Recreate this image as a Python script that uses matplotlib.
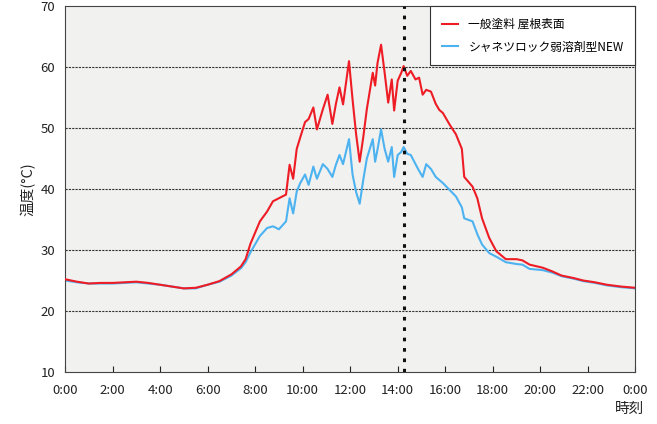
import matplotlib
matplotlib.use("Agg")
import matplotlib.pyplot as plt

plt.rcParams['font.family'] = ['Noto Sans CJK JP', 'DejaVu Sans']

hours = [0, 0.5, 1, 1.5, 2, 2.5, 3, 3.5, 4, 4.5, 5, 5.5, 6, 6.5, 7, 7.4, 7.6, 7.8,
         8.2, 8.5, 8.75, 9.0, 9.3, 9.45, 9.6, 9.75, 9.9, 10.1, 10.25, 10.45, 10.6,
         10.85, 11.05, 11.25, 11.4, 11.55, 11.7, 11.95, 12.1, 12.25, 12.4, 12.55,
         12.7, 12.95, 13.05, 13.15, 13.3, 13.45, 13.6, 13.75, 13.85, 14.0, 14.15,
         14.25, 14.4, 14.55, 14.75, 14.9, 15.05, 15.2, 15.4, 15.6, 15.75, 15.9,
         16.2, 16.45, 16.7, 16.8, 17.15, 17.35, 17.55, 17.85, 18.15, 18.55, 19.0,
         19.25, 19.55, 20.1, 20.5, 20.9, 21.4, 21.8, 22.3, 22.8, 23.4, 24.0]

general_paint = [25.2, 24.8, 24.5, 24.6, 24.6, 24.7, 24.8, 24.6, 24.3, 24.0, 23.7, 23.8,
                 24.3, 24.9, 26.0, 27.3, 28.5, 31.0,
                 34.7, 36.3, 38.0, 38.5, 39.1, 44.0, 41.7, 46.6, 48.5, 51.0, 51.5, 53.4, 49.8,
                 53.1, 55.5, 50.7, 54.0, 56.7, 53.9, 61.0, 54.7, 49.0, 44.5, 48.5,
                 53.1, 59.1, 57.0, 60.7, 63.7, 59.1, 54.2, 58.0, 52.9, 57.8, 59.1,
                 60.2, 58.6, 59.4, 58.0, 58.3, 55.5, 56.3, 56.0, 54.0, 53.0, 52.5,
                 50.5, 49.0, 46.6, 42.0, 40.4, 38.5, 35.2, 32.0, 29.8, 28.5, 28.5,
                 28.3, 27.6, 27.1, 26.5, 25.8, 25.4, 25.0, 24.7, 24.3, 24.0, 23.8]

shanetsu_new = [25.0, 24.7, 24.5, 24.5, 24.5, 24.6, 24.7, 24.5, 24.3, 24.0, 23.7, 23.7,
                24.3, 24.8, 25.8, 27.0, 28.0, 29.6,
                32.3, 33.6, 33.9, 33.4, 34.7, 38.5, 36.0, 39.6, 41.0, 42.4, 40.7, 43.7, 41.7,
                44.1, 43.3, 42.0, 44.0, 45.6, 44.1, 48.2, 42.4, 39.5, 37.6, 41.5,
                45.0, 48.2, 44.5, 46.5, 49.8, 46.6, 44.5, 46.9, 42.0, 45.6, 46.1,
                46.9, 45.8, 45.6, 44.1, 43.0, 42.0, 44.1, 43.3, 42.0, 41.5, 41.0,
                39.8, 38.8, 37.0, 35.2, 34.7, 32.6, 30.9, 29.5, 28.9, 28.0, 27.7,
                27.6, 26.9, 26.7, 26.3, 25.7, 25.3, 24.9, 24.6, 24.2, 23.9, 23.7]

series_labels = ['一般塗料 屋根表面', 'シャネツロック弱溶剤型NEW']
x_ticks = list(range(0, 25, 2))
x_tick_labels = [f'{h % 24}:00' for h in x_ticks]
y_ticks = [10, 20, 30, 40, 50, 60, 70]
marker_hour = 14.25

fig = plt.figure(figsize=(6.57, 4.24), dpi=100)
ax = fig.add_axes([0.099, 0.123, 0.868, 0.862])
ax.set_facecolor('#f1f1f0')

for y in y_ticks[1:-1]:
    ax.axhline(y, color='#333333', lw=0.8, ls=(0, (2, 1)), zorder=1)

ax.plot(hours, general_paint, color='#ee1c25', lw=1.5, label=series_labels[0], zorder=3)
ax.plot(hours, shanetsu_new, color='#4db3f0', lw=1.5, label=series_labels[1], zorder=2)

ax.axvline(marker_hour, color='#111111', lw=2.2, ls=(0, (1.2, 2.2)), zorder=4)

ax.set_xlim(0, 24)
ax.set_ylim(10, 70)
ax.set_xticks(x_ticks)
ax.set_xticklabels(x_tick_labels)
ax.set_yticks(y_ticks)
ax.tick_params(axis='x', direction='in', length=4, width=0.8, labelsize=9.5, pad=9, colors='#222222')
ax.tick_params(axis='y', length=0, labelsize=9.5, pad=7, colors='#222222')
for s in ax.spines.values():
    s.set_color('#444444')
    s.set_linewidth(0.8)

ax.set_ylabel('温度(°C)', fontsize=10.5, color='#222222', labelpad=4)
fig.text(0.958, 0.035, '時刻', fontsize=10.5, color='#222222', ha='center', va='center')

leg = ax.legend(loc='upper right', borderaxespad=0, fontsize=8.5, frameon=True,
                fancybox=False, handlelength=1.3, handletextpad=0.9,
                borderpad=1.0, labelspacing=0.8)
leg.get_frame().set_edgecolor('#333333')
leg.get_frame().set_linewidth(0.8)
leg.get_frame().set_facecolor('white')
leg.get_frame().set_alpha(1)
leg.set_zorder(5)

fig.savefig('out.png', dpi=100, facecolor='white')
